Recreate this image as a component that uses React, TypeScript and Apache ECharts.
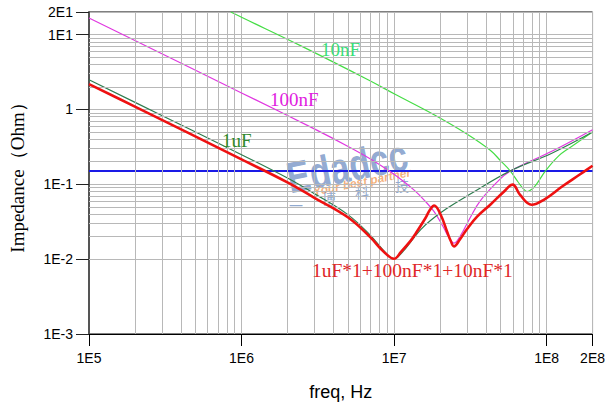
import React, { useEffect, useRef } from "react";
import * as echarts from "echarts";

// Axis ranges
const freqMin = 1e5;
const freqMax = 2e8;
const impMin = 1e-3;
const impMax = 20;

// Target impedance (blue line)
const targetImpedance = 0.15;

// [frequency Hz, impedance Ohm]
const cap1uF: [number, number][] = [
  [1e5, 2.49], [3e5, 0.83], [1e6, 0.248], [2e6, 0.121], [3e6, 0.075], [5e6, 0.039],
  [7e6, 0.0208], [8.5e6, 0.0132], [1e7, 0.0101], [1.15e7, 0.0128], [1.29e7, 0.0172],
  [1.5e7, 0.025], [1.74e7, 0.033], [2.2e7, 0.047], [3.16e7, 0.074], [5.75e7, 0.15],
  [1.09e8, 0.262], [2e8, 0.499],
];

const cap100nF: [number, number][] = [
  [1e5, 16.6], [1e6, 1.66], [3e6, 0.55], [5e6, 0.32], [7e6, 0.218], [9e6, 0.157],
  [1.15e7, 0.11], [1.36e7, 0.083], [1.57e7, 0.062], [1.83e7, 0.043], [2.12e7, 0.026],
  [2.3e7, 0.019], [2.47e7, 0.0164], [2.72e7, 0.0205], [3.16e7, 0.036], [3.67e7, 0.06],
  [4.71e7, 0.106], [5.75e7, 0.149], [1.09e8, 0.278], [2e8, 0.536],
];

const cap10nF: [number, number][] = [
  [8.5e5, 20], [1e6, 17.0], [2.49e6, 6.95], [6.75e6, 2.49], [1e7, 1.62], [1.83e7, 0.85],
  [3e7, 0.47], [4.27e7, 0.285], [5e7, 0.205], [5.75e7, 0.152], [6.48e7, 0.108],
  [7e7, 0.088], [7.45e7, 0.0796], [8e7, 0.086], [8.57e7, 0.1], [9.86e7, 0.152],
  [1.2e8, 0.239], [1.41e8, 0.305], [2e8, 0.5],
];

const combined: [number, number][] = [
  [1e5, 2.18], [2e5, 1.09], [1e6, 0.215], [2e6, 0.106], [3e6, 0.066], [5e6, 0.036],
  [7e6, 0.0195], [8.5e6, 0.0127], [1e7, 0.0101], [1.11e7, 0.0125], [1.29e7, 0.0178],
  [1.39e7, 0.0222], [1.61e7, 0.0357], [1.72e7, 0.0457], [1.83e7, 0.052], [2.02e7, 0.0392],
  [2.24e7, 0.0225], [2.35e7, 0.0176], [2.47e7, 0.0148], [2.7e7, 0.0183], [3e7, 0.0251],
  [3.5e7, 0.0369], [4.27e7, 0.0533], [5.2e7, 0.0784], [5.99e7, 0.099], [6.68e7, 0.0726],
  [7.96e7, 0.0533], [9.7e7, 0.063], [1.27e8, 0.094], [1.64e8, 0.134], [2e8, 0.177],
];

// Minor grid decades / multipliers
const minorMultipliers = [2, 3, 4, 5, 6, 7, 8, 9];
const xDecades = [1e5, 1e6, 1e7];
const yDecades = [1e-3, 1e-2, 1e-1, 1];

function sciLabel(v: number): string {
  const e = Math.floor(Math.log10(v) + 1e-6);
  const m = Math.round(v / Math.pow(10, e));
  if (e === 0 && m === 1) return "1";
  return m + "E" + e;
}

export default function App() {
  const ref = useRef<HTMLDivElement>(null);

  useEffect(() => {
    if (!ref.current) return;
    const chart = echarts.init(ref.current, undefined, { renderer: "svg" });

    const minorLines = [
      ...xDecades.flatMap((d) => minorMultipliers.map((k) => ({ xAxis: k * d }))),
      ...yDecades.flatMap((d) => minorMultipliers.map((k) => ({ yAxis: k * d }))),
    ];

    const serif = "'Liberation Serif', 'Times New Roman', serif";
    const sans = "'Liberation Sans', Arial, sans-serif";
    const gridColor = "#b8b8b8";
    const cjk = "'Noto Sans CJK SC', sans-serif";
    const wmFill = "rgba(80,120,180,0.65)";

    chart.setOption({
      animation: false,
      grid: {
        left: 85,
        right: 15,
        top: 12,
        bottom: 73,
        show: true,
        borderColor: "#000",
        borderWidth: 1,
        backgroundColor: "#fff",
      },
      xAxis: {
        type: "log",
        logBase: 10,
        min: freqMin,
        max: freqMax,
        name: "freq, Hz",
        nameLocation: "middle",
        nameGap: 49,
        nameTextStyle: { fontSize: 18, fontFamily: sans, color: "#000" },
        axisLine: { show: true, onZero: false, lineStyle: { color: "#000", width: 1 } },
        axisTick: { show: true, length: 12, lineStyle: { color: "#000" } },
        axisLabel: {
          fontSize: 14,
          fontFamily: sans,
          color: "#000",
          margin: 17,
          formatter: (v: number) => sciLabel(v),
          showMinLabel: true,
          showMaxLabel: true,
        },
        splitLine: { show: true, lineStyle: { color: gridColor, width: 1 } },
      },
      yAxis: {
        type: "log",
        logBase: 10,
        min: impMin,
        max: impMax,
        name: "Impedance（Ohm）",
        nameLocation: "middle",
        nameGap: 62,
        nameTextStyle: { fontSize: 19, fontFamily: serif, color: "#000" },
        axisLine: { show: true, onZero: false, lineStyle: { color: "#555", width: 2 } },
        axisTick: { show: true, length: 13, lineStyle: { color: "#222" } },
        axisLabel: {
          fontSize: 14,
          fontFamily: sans,
          color: "#000",
          margin: 16,
          formatter: (v: number) => sciLabel(v),
          showMinLabel: true,
          showMaxLabel: true,
        },
        splitLine: { show: true, lineStyle: { color: gridColor, width: 1 } },
      },
      series: [
        {
          name: "grid",
          type: "line",
          z: 1,
          data: [[freqMin, targetImpedance]],
          symbol: "none",
          lineStyle: { opacity: 0 },
          silent: true,
          markLine: {
            silent: true,
            symbol: ["none", "none"],
            label: { show: false },
            lineStyle: { color: gridColor, width: 1, type: "solid" },
            emphasis: { disabled: true },
            animation: false,
            data: minorLines,
          },
        },
        {
          name: "target",
          type: "line",
          z: 3,
          data: [[freqMin, targetImpedance], [freqMax, targetImpedance]],
          symbol: "none",
          lineStyle: { color: "#1a1ae6", width: 2 },
        },
        {
          name: "10nF",
          type: "line",
          z: 4,
          data: cap10nF,
          symbol: "none",
          smooth: 0.4,
          lineStyle: { color: "#45dd45", width: 1.2 },
        },
        {
          name: "100nF",
          type: "line",
          z: 4,
          data: cap100nF,
          symbol: "none",
          smooth: 0.4,
          lineStyle: { color: "#e038e0", width: 1.2 },
        },
        {
          name: "1uF",
          type: "line",
          z: 4,
          data: cap1uF,
          symbol: "none",
          smooth: 0.4,
          lineStyle: { color: "#2e7d4f", width: 1.2 },
        },
        {
          name: "1uF*1+100nF*1+10nF*1",
          type: "line",
          z: 5,
          data: combined,
          symbol: "none",
          smooth: 0.4,
          lineStyle: { color: "#ee1111", width: 2.6 },
        },
      ],
      graphic: [
        {
          type: "group",
          z: 50,
          silent: true,
          children: [
            {
              type: "text",
              x: 347,
              y: 166,
              rotation: 0.2,
              scaleX: 0.78,
              style: {
                text: "Edadcc",
                fontSize: 44,
                fontWeight: "bold",
                fontFamily: sans,
                fill: "rgba(75,115,180,0.62)",
                align: "center",
                verticalAlign: "middle",
              },
            },
            {
              type: "text",
              x: 362,
              y: 182,
              rotation: 0.2,
              style: {
                text: "Your best partner",
                fontSize: 12,
                fontWeight: "bold",
                fontStyle: "italic",
                fontFamily: sans,
                fill: "rgba(240,150,80,0.75)",
                align: "center",
                verticalAlign: "middle",
              },
            },
            { type: "text", x: 296, y: 205, style: { text: "一", fontSize: 14, fill: wmFill, align: "center", verticalAlign: "middle", fontFamily: cjk } },
            { type: "text", x: 329, y: 198, style: { text: "博", fontSize: 14, fill: wmFill, align: "center", verticalAlign: "middle", fontFamily: cjk } },
            { type: "text", x: 362, y: 192, style: { text: "科", fontSize: 14, fill: wmFill, align: "center", verticalAlign: "middle", fontFamily: cjk } },
            { type: "text", x: 402, y: 185, style: { text: "技", fontSize: 14, fill: wmFill, align: "center", verticalAlign: "middle", fontFamily: cjk } },
          ],
        },
        {
          type: "text",
          z: 60,
          x: 321,
          y: 49,
          style: { text: "10nF", fontSize: 19, fontFamily: serif, fill: "#38df7a", verticalAlign: "middle" },
        },
        {
          type: "text",
          z: 60,
          x: 270,
          y: 99,
          style: { text: "100nF", fontSize: 19, fontFamily: serif, fill: "#e020e0", verticalAlign: "middle" },
        },
        {
          type: "text",
          z: 60,
          x: 222,
          y: 140,
          style: { text: "1uF", fontSize: 19, fontFamily: serif, fill: "#2f8a2f", verticalAlign: "middle" },
        },
        {
          type: "text",
          z: 60,
          x: 312,
          y: 270,
          style: { text: "1uF*1+100nF*1+10nF*1", fontSize: 19.5, fontFamily: serif, fill: "#e02828", verticalAlign: "middle" },
        },
      ],
    });

    return () => chart.dispose();
  }, []);

  return (
    <div
      ref={ref}
      style={{ position: "fixed", left: 0, top: 0, width: 608, height: 407, background: "#fff" }}
    />
  );
}
